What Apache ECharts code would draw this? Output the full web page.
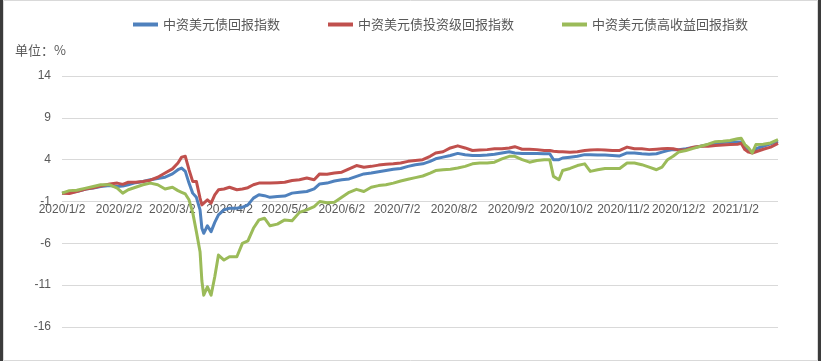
<!DOCTYPE html>
<html>
<head>
<meta charset="utf-8">
<script src="https://cdn.jsdelivr.net/npm/echarts@6/dist/echarts.min.js"></script>
<style>
html,body{margin:0;padding:0;background:#fff;}
#chart{width:821px;height:361px;}
</style>
</head>
<body>
<div id="chart"></div>
<script>
const seriesNames = ['中资美元债回报指数', '中资美元债投资级回报指数', '中资美元债高收益回报指数'];
const dates = [
'2020-01-02','2020-01-06','2020-01-10','2020-01-15','2020-01-19','2020-01-23','2020-01-28','2020-02-01','2020-02-04','2020-02-07',
'2020-02-11','2020-02-15','2020-02-19','2020-02-23','2020-02-27','2020-03-02','2020-03-05','2020-03-07','2020-03-09','2020-03-11',
'2020-03-13','2020-03-15','2020-03-17','2020-03-18','2020-03-19','2020-03-21','2020-03-23','2020-03-25','2020-03-27','2020-03-30',
'2020-04-02','2020-04-06','2020-04-09','2020-04-12','2020-04-15','2020-04-18','2020-04-21','2020-04-24','2020-04-28','2020-05-02',
'2020-05-06','2020-05-10','2020-05-14','2020-05-18','2020-05-21','2020-05-25','2020-05-29','2020-06-02','2020-06-06','2020-06-10',
'2020-06-14','2020-06-18','2020-06-22','2020-06-26','2020-06-30','2020-07-04','2020-07-08','2020-07-12','2020-07-16','2020-07-20',
'2020-07-23','2020-07-27','2020-07-31','2020-08-04','2020-08-08','2020-08-12','2020-08-16','2020-08-20','2020-08-24','2020-08-28',
'2020-09-01','2020-09-04','2020-09-08','2020-09-12','2020-09-16','2020-09-20','2020-09-23','2020-09-25','2020-09-28','2020-09-30',
'2020-10-04','2020-10-08','2020-10-12','2020-10-15','2020-10-19','2020-10-23','2020-10-27','2020-10-31','2020-11-04','2020-11-08',
'2020-11-12','2020-11-16','2020-11-20','2020-11-23','2020-11-26','2020-11-29','2020-12-02','2020-12-06','2020-12-10','2020-12-14',
'2020-12-18','2020-12-22','2020-12-26','2020-12-30','2021-01-03','2021-01-05','2021-01-07','2021-01-09','2021-01-11','2021-01-13',
'2021-01-17','2021-01-21','2021-01-25'
];
const blueVals = [
0.0,0.1,0.2,0.5,0.6,0.8,0.9,0.8,0.85,1.0,
1.25,1.4,1.6,1.75,1.9,2.3,2.8,3.0,2.6,1.2,
0.0,-0.5,-2.0,-4.2,-4.8,-3.9,-4.6,-3.5,-2.6,-2.0,
-1.8,-1.8,-1.7,-1.4,-0.6,-0.2,-0.3,-0.5,-0.4,-0.35,
0.0,0.1,0.2,0.5,1.1,1.2,1.45,1.6,1.7,2.0,
2.3,2.4,2.55,2.7,2.85,2.95,3.2,3.4,3.5,3.8,
4.1,4.3,4.5,4.75,4.6,4.5,4.5,4.55,4.65,4.8,
4.95,4.8,4.75,4.75,4.75,4.7,4.7,4.0,4.0,4.2,
4.3,4.4,4.6,4.6,4.55,4.55,4.5,4.45,4.8,4.8,
4.7,4.65,4.7,4.9,5.1,5.2,5.2,5.3,5.45,5.6,
5.8,6.0,6.05,6.1,6.1,6.1,5.6,5.1,4.85,5.3,
5.6,5.9,6.2
];
const redVals = [
0.0,-0.05,0.2,0.5,0.65,0.85,1.1,1.2,1.05,1.3,
1.3,1.4,1.55,1.9,2.4,2.9,3.6,4.3,4.4,2.8,
1.4,1.4,-0.6,-1.4,-1.3,-0.8,-1.2,-0.2,0.4,0.5,
0.7,0.4,0.5,0.65,1.0,1.2,1.2,1.2,1.25,1.3,
1.5,1.6,1.8,1.6,2.3,2.25,2.4,2.5,2.9,3.3,
3.1,3.2,3.35,3.45,3.5,3.6,3.8,3.9,4.0,4.4,
4.8,4.95,5.4,5.65,5.4,5.1,5.15,5.2,5.3,5.3,
5.4,5.55,5.25,5.25,5.2,5.1,5.1,5.0,4.95,4.95,
4.9,4.95,5.1,5.15,5.2,5.15,5.1,5.1,5.5,5.3,
5.3,5.2,5.25,5.3,5.35,5.3,5.15,5.2,5.5,5.6,
5.6,5.7,5.75,5.8,5.85,5.95,5.2,4.9,4.8,4.95,
5.25,5.5,5.95
];
const greenVals = [
0.0,0.3,0.35,0.6,0.8,1.0,1.0,0.6,0.0,0.4,
0.7,1.0,1.2,1.0,0.5,0.7,0.3,0.1,-0.1,-0.8,
-2.3,-4.6,-7.0,-10.5,-12.2,-11.2,-12.2,-10.0,-7.4,-8.0,
-7.6,-7.6,-6.0,-5.7,-4.2,-3.2,-3.0,-3.9,-3.7,-3.2,
-3.3,-2.3,-2.0,-1.6,-1.0,-1.15,-1.1,-0.5,0.1,0.45,
0.2,0.7,0.9,1.0,1.2,1.45,1.65,1.85,2.05,2.4,
2.7,2.8,2.85,3.0,3.2,3.5,3.6,3.6,3.7,4.1,
4.4,4.4,4.0,3.7,3.9,4.0,4.0,2.0,1.6,2.7,
2.95,3.3,3.5,2.6,2.8,2.95,2.95,2.95,3.6,3.6,
3.4,3.1,2.8,3.1,4.0,4.4,4.9,5.1,5.35,5.6,
5.85,6.15,6.2,6.3,6.5,6.55,5.8,5.4,4.8,5.8,
5.85,6.0,6.4
];
const yTicks = [-16, -11, -6, -1, 4, 9, 14];
const xTickLabels = ['2020/1/2','2020/2/2','2020/3/2','2020/4/2','2020/5/2','2020/6/2','2020/7/2','2020/8/2','2020/9/2','2020/10/2','2020/11/2','2020/12/2','2021/1/2'];
const unitText = '单位：%';
const colors = ['#4F81BD', '#C0504D', '#9BBB59'];

const BASE = Date.UTC(2020, 0, 2);
function dayOf(s) {
  const p = s.split(/[-\/]/).map(Number);
  return Math.round((Date.UTC(p[0], p[1] - 1, p[2]) - BASE) / 86400000);
}
const xMax = dayOf(dates[dates.length - 1]);
const yMin = -16, yMax = 14, crossAt = -1;
const gridLeft = 62, gridRight = 43, gridTop = 76, gridHeight = 251;
const labelGridHeight = gridHeight * (yMax - crossAt) / (yMax - yMin);
const tickDays = xTickLabels.map(dayOf);
const labelMap = {};
tickDays.forEach((d, i) => { labelMap[d] = xTickLabels[i]; });

const vals = [blueVals, redVals, greenVals];
const chart = echarts.init(document.getElementById('chart'), null, {renderer: 'canvas'});
const txt = '#595959';
chart.setOption({
  backgroundColor: '#ffffff',
  animation: false,
  color: colors,
  title: {
    text: unitText, left: 10, top: 39,
    textStyle: {fontSize: 13, fontWeight: 'normal', color: txt, fontFamily: 'Noto Sans CJK SC'}
  },
  legend: {
    left: 128, top: 13, itemGap: 48, itemWidth: 25, itemHeight: 4, icon: 'rect',
    data: seriesNames,
    textStyle: {fontSize: 13, color: txt, fontFamily: 'Noto Sans CJK SC'}
  },
  graphic: [
    {type: 'rect', shape: {x: 3.5, y: 0.5, width: 814, height: 360}, style: {fill: 'none', stroke: '#d9d9d9', lineWidth: 1}, silent: true},
    {type: 'rect', shape: {x: 0, y: 0, width: 3, height: 361}, style: {fill: '#3b3b3b'}, silent: true},
    {type: 'rect', shape: {x: 818, y: 0, width: 3, height: 361}, style: {fill: '#3b3b3b'}, silent: true}
  ],
  grid: [
    {left: gridLeft, right: gridRight, top: gridTop, height: gridHeight},
    {left: gridLeft, right: gridRight, top: gridTop, height: labelGridHeight}
  ],
  xAxis: [
    {gridIndex: 0, type: 'value', min: 0, max: xMax, show: false},
    {gridIndex: 1, type: 'value', min: 0, max: xMax,
     axisLine: {show: false}, axisTick: {show: false}, splitLine: {show: false},
     axisLabel: {customValues: tickDays, margin: 2, color: txt, fontSize: 12, fontFamily: 'Liberation Sans',
       formatter: v => labelMap[Math.round(v)] || ''}}
  ],
  yAxis: [
    {gridIndex: 0, type: 'value', min: yMin, max: yMax,
     axisLine: {show: false},
     axisTick: {show: false, customValues: yTicks},
     splitLine: {show: true, lineStyle: {color: '#d9d9d9', width: 1}},
     axisLabel: {customValues: yTicks, margin: 11, color: txt, fontSize: 12, fontFamily: 'Liberation Sans'}},
    {gridIndex: 1, type: 'value', min: crossAt, max: yMax, show: false}
  ],
  series: seriesNames.map((name, k) => ({
    name: name, type: 'line', xAxisIndex: 0, yAxisIndex: 0,
    showSymbol: false, symbol: 'none',
    lineStyle: {width: 3, color: colors[k], join: 'round'},
    itemStyle: {color: colors[k]},
    z: 2 + k,
    data: dates.map((d, i) => [dayOf(d), vals[k][i]])
  }))
});
</script>
</body>
</html>
